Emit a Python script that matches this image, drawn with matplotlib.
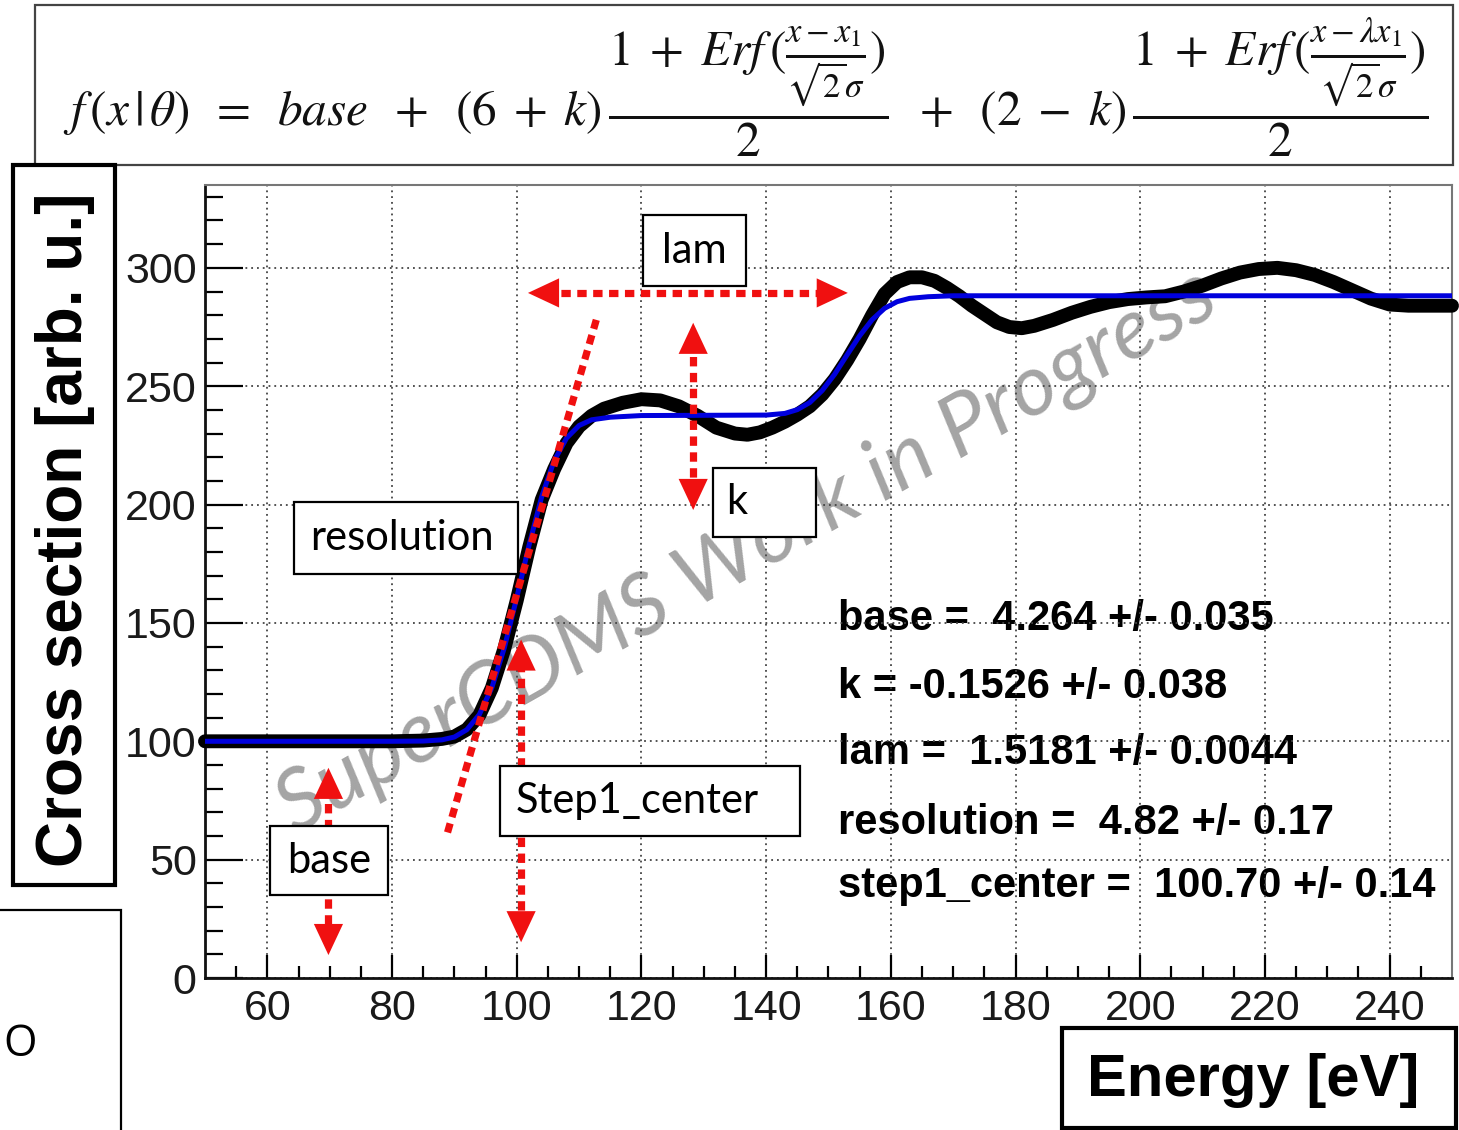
import matplotlib
matplotlib.use("Agg")
import matplotlib.pyplot as plt
from matplotlib.patches import Rectangle

# ---------------- data ----------------
energy_data = [50, 60, 70, 80, 85, 88, 90, 92, 94, 96, 98, 100, 102, 104, 106, 108, 110, 112, 114,
               117, 120, 123, 126, 129, 132, 135, 137, 139, 141, 143, 145, 147, 149, 151, 153, 155,
               157, 159, 161, 163, 165, 167, 169, 171, 173, 175, 177, 179, 181, 183, 186, 189, 192,
               195, 198, 201, 204, 207, 210, 213, 216, 219, 222, 225, 228, 231, 234, 237, 240, 243,
               246, 250]
xs_data = [100, 100, 100, 100, 100.3, 101, 102, 105, 111, 122.5, 139, 159.5, 182, 202, 215, 226,
           233, 237.5, 240.5, 243, 244.5, 244, 241.5, 237.5, 232.5, 230, 229.5, 230.5, 232.5, 235,
           238, 241.5, 246.5, 253, 261, 270, 280, 289, 294, 296, 296, 294.5, 291.5, 288, 284, 280.5,
           277, 275, 274.5, 275.5, 278, 281, 283.5, 285.5, 286.8, 287.5, 288, 290, 292.5, 295.5,
           298, 299.5, 300, 299, 297, 294, 290.5, 287, 284.5, 284, 284, 284]

energy_fit = [50, 80, 85, 88, 90, 92, 94, 96, 98, 100, 102, 104, 106, 108, 110, 112, 115, 120,
              140, 143, 145, 147, 149, 151, 153, 155, 157, 159, 161, 163, 166, 170, 250]
xs_fit = [100, 100, 100.1, 100.6, 101.8, 104.9, 111.3, 122.6, 139.4, 160.7, 183.1, 203.3, 218.5,
          228.1, 233.4, 235.8, 236.9, 237.6, 237.8, 238.5, 240.1, 243.1, 248.2, 255.1, 263.3,
          271.3, 278.1, 282.9, 285.7, 287.1, 287.8, 288.2, 288.2]

x_ticks = [60, 80, 100, 120, 140, 160, 180, 200, 220, 240]
y_ticks = [0, 50, 100, 150, 200, 250, 300]

fit_labels = ["base =  4.264 +/- 0.035",
              "k = -0.1526 +/- 0.038",
              "lam =  1.5181 +/- 0.0044",
              "resolution =  4.82 +/- 0.17",
              "step1_center =  100.70 +/- 0.14"]

formula = (r"$f\,(x\,|\,\theta)\;\;=\;\;base\;\;+\;\;(6\;+\;k)\,"
           r"\dfrac{1\;+\;Erf\,(\frac{x-x_1}{\sqrt{2}\sigma})}{2}\;\;+\;\;(2\;-\;k)\,"
           r"\dfrac{1\;+\;Erf\,(\frac{x-\lambda x_1}{\sqrt{2}\sigma})}{2}$")

# ---------------- figure ----------------
plt.rcParams["mathtext.fontset"] = "stix"
fig = plt.figure(figsize=(14.59, 11.3), dpi=100)
ax = fig.add_axes([0.1405, 0.1345, 0.8547, 0.7018])
ax.set_xlim(50, 250)
ax.set_ylim(0, 335)

ax.set_xticks(x_ticks)
ax.set_yticks(y_ticks)
ax.set_xticks([x for x in range(55, 250, 5) if x % 20 != 0], minor=True)
ax.set_yticks([y for y in range(10, 335, 10) if y % 50 != 0], minor=True)
tick_font = dict(family=["Liberation Sans Narrow", "Liberation Sans"], size=31)
ax.set_xticklabels([str(t) for t in x_ticks], fontdict=tick_font, color="#1a1a1a")
ax.set_yticklabels([str(t) for t in y_ticks], fontdict=tick_font, color="#1a1a1a")
ax.tick_params(axis="y", which="major", direction="in", length=27, width=1.6, pad=6)
ax.tick_params(axis="y", which="minor", direction="in", length=13, width=1.6)
ax.tick_params(axis="x", which="major", direction="in", length=16.5, width=1.6, pad=8)
ax.tick_params(axis="x", which="minor", direction="in", length=8.6, width=1.6)
for s in ["left", "bottom"]:
    ax.spines[s].set_linewidth(2)
    ax.spines[s].set_color("#111111")
for s in ["top", "right"]:
    ax.spines[s].set_linewidth(1.5)
    ax.spines[s].set_color("#777777")
ax.grid(True, which="major", color="#444444", lw=1.3, linestyle=(0, (1, 2.2)))

# watermark
ax.text(136.9, 180, "SuperCDMS Work in Progress", rotation=29.5, rotation_mode="anchor",
        ha="center", va="center", fontsize=62, family="Lato", style="italic",
        color="#9a9a9a", alpha=0.9, zorder=1.2)

# curves
ax.plot(energy_data, xs_data, color="black", lw=10, solid_capstyle="round",
        solid_joinstyle="round", zorder=3, clip_on=False)
ax.plot(energy_fit, xs_fit, color="#0000dd", lw=3.6, zorder=4)

# ---------------- red annotations ----------------
RED = "#f01010"
dot = dict(color=RED, lw=5.2, linestyle=(0, (1.3, 0.9)), dash_capstyle="butt", zorder=5)


def head(x, y, dx, dy):
    ax.annotate("", xy=(x, y), xytext=(dx, dy), textcoords="offset points",
                arrowprops=dict(arrowstyle="-|>,head_length=1.6,head_width=0.75",
                                mutation_scale=14, color=RED, lw=0,
                                shrinkA=0, shrinkB=0), zorder=5)


# lam (horizontal)
ax.plot([104.5, 150.5], [289.4, 289.4], **dot)
head(101.8, 289.4, 22, 0)
head(153.1, 289.4, -22, 0)
# tangent line
ax.plot([88.9, 113.0], [61.5, 280.2], **dot)
# k (vertical)
ax.plot([128.3, 128.3], [205, 270], **dot)
head(128.3, 276.8, 0, -22)
head(128.3, 197.7, 0, 22)
# step1 center
ax.plot([100.7, 100.7], [22, 136], **dot)
head(100.7, 143, 0, -22)
head(100.7, 15.1, 0, 22)
# base
ax.plot([69.8, 69.8], [16, 82], **dot)
head(69.8, 88.8, 0, -22)
head(69.8, 9.7, 0, 22)

# ---------------- labelled boxes ----------------
box_font = dict(family="Lato", size=30, color="black")


def tbox(x0, x1, y0, y1, label, tx, ty, ha="center"):
    ax.add_patch(Rectangle((x0, y0), x1 - x0, y1 - y0, facecolor="white",
                           edgecolor="black", lw=1.6, zorder=6))
    ax.text(tx, ty, label, ha=ha, va="center", zorder=7, **box_font)


tbox(120.26, 136.76, 292.4, 322.3, "lam", 128.5, 307.3)
tbox(131.47, 147.98, 186.4, 215.4, "k", 133.6, 201.0, ha="left")
tbox(64.33, 100.22, 170.8, 201.1, "resolution", 81.6, 185.9)
tbox(97.34, 145.42, 60.2, 89.6, "Step1_center", 119.3, 74.9)
tbox(60.48, 79.39, 34.9, 64.4, "base", 69.9, 49.6)

# fit results
for lab, yy in zip(fit_labels, [151.5, 122.8, 95.1, 65.6, 38.7]):
    ax.text(151.5, yy, lab, ha="left", va="center", fontsize=30, fontweight="bold",
            family="Liberation Sans", color="black", zorder=1)

# ---------------- figure-level decorations ----------------
fig.patches.append(Rectangle((0.024, 0.854), 0.972, 0.1416, transform=fig.transFigure,
                             facecolor="white", edgecolor="#444444", lw=1.6, zorder=0))
fig.text(0.511, 0.922, formula, ha="center", va="center", fontsize=35.5, color="#111111")

fig.patches.append(Rectangle((0.0089, 0.2168), 0.0699, 0.6372, transform=fig.transFigure,
                             facecolor="white", edgecolor="black", lw=3, zorder=2))
fig.text(0.0446, 0.531, "Cross section [arb. u.]", rotation=90, ha="center", va="center",
         fontsize=46, fontweight="bold", family="Liberation Sans", zorder=3)

fig.patches.append(Rectangle((0.7279, 0.0018), 0.2701, 0.0885, transform=fig.transFigure,
                             facecolor="white", edgecolor="black", lw=3, zorder=2))
fig.text(0.8588, 0.0442, "Energy [eV]", ha="center", va="center",
         fontsize=43, fontweight="bold", family="Liberation Sans", zorder=3)

fig.patches.append(Rectangle((-0.01, -0.01), 0.0929, 0.2047, transform=fig.transFigure,
                             facecolor="white", edgecolor="black", lw=1.6, zorder=2))
fig.text(0.002, 0.075, "O", ha="left", va="center", fontsize=31, family="Open Sans", zorder=3)

fig.savefig("out.png", dpi=100)
